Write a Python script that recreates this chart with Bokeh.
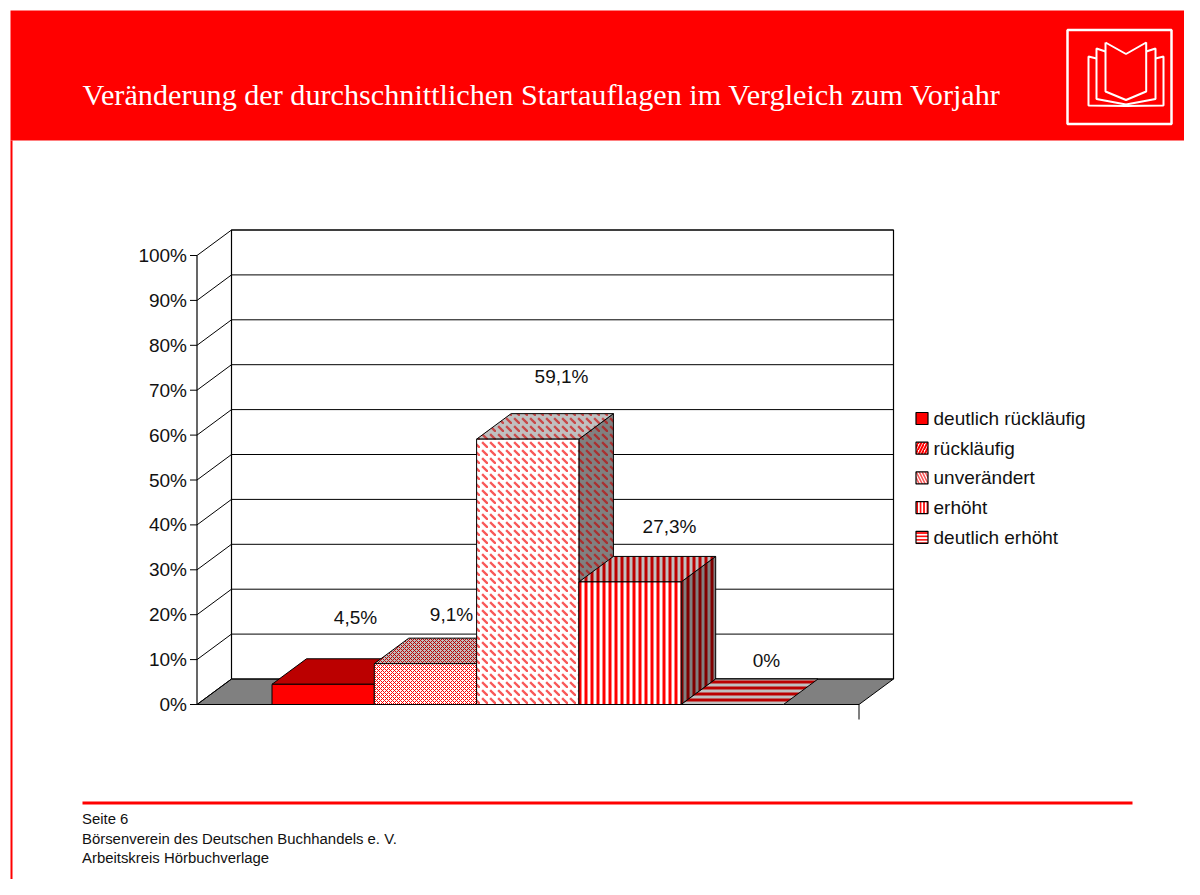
from bokeh.plotting import figure
from bokeh.embed import file_html
from bokeh.resources import INLINE
from bokeh.core.properties import value
from bokeh.models import Range1d

# ---- data ----
title = "Veränderung der durchschnittlichen Startauflagen im Vergleich zum Vorjahr"
series = ["deutlich rückläufig", "rückläufig", "unverändert", "erhöht", "deutlich erhöht"]
values = [4.5, 9.1, 59.1, 27.3, 0.0]
value_labels = ["4,5%", "9,1%", "59,1%", "27,3%", "0%"]
ticks = [0, 10, 20, 30, 40, 50, 60, 70, 80, 90, 100]
footer = ["Seite 6", "Börsenverein des Deutschen Buchhandels e. V.", "Arbeitskreis Hörbuchverlage"]

# ---- layout (pixels of the picture) ----
X0, X1, Y0, PX = 196.5, 858.5, 704.0, 4.49
DX, DY = 34.5, 25.5
BAR0, BARW = 271.5, 102.3
LABEL_X = [355, 451, 561, 669, 766]
LABEL_Y = [616.5, 613.5, 376, 525.5, 659.5]
RED = "#ff0000"
FONT = "Liberation Sans"
W, H = 1184, 879

front_style = [
    dict(fill_color=RED),
    dict(fill_color="white", hatch_pattern="diagonal_cross", hatch_color=RED, hatch_scale=4, hatch_weight=1),
    dict(fill_color="white", hatch_pattern="left_diagonal_dash", hatch_color="#f85858", hatch_scale=8, hatch_weight=2.4),
    dict(fill_color="white", hatch_pattern="vertical_line", hatch_color=RED, hatch_scale=6, hatch_weight=3),
    dict(fill_color="white", hatch_pattern="horizontal_line", hatch_color=RED, hatch_scale=6, hatch_weight=3),
]
top_style = [
    dict(fill_color="#bb0000"),
    dict(fill_color="#c0c0c0", hatch_pattern="diagonal_cross", hatch_color="#bb0000", hatch_scale=4, hatch_weight=1),
    dict(fill_color="#c0c0c0", hatch_pattern="left_diagonal_dash", hatch_color="#c84848", hatch_scale=8, hatch_weight=2.4),
    dict(fill_color="#c0c0c0", hatch_pattern="vertical_line", hatch_color="#bb0000", hatch_scale=6, hatch_weight=3),
    dict(fill_color="#c0c0c0", hatch_pattern="horizontal_line", hatch_color="#bb0000", hatch_scale=6, hatch_weight=3),
]
side_style = [
    dict(fill_color="#800000"),
    dict(fill_color="#808080", hatch_pattern="diagonal_cross", hatch_color="#800000", hatch_scale=4, hatch_weight=1),
    dict(fill_color="#808080", hatch_pattern="left_diagonal_dash", hatch_color="#a83030", hatch_scale=8, hatch_weight=2.4),
    dict(fill_color="#808080", hatch_pattern="vertical_line", hatch_color="#800000", hatch_scale=6, hatch_weight=3),
    dict(fill_color="#808080", hatch_pattern="horizontal_line", hatch_color="#800000", hatch_scale=6, hatch_weight=3),
]
legend_style = [
    dict(fill_color=RED),
    dict(fill_color="white", hatch_pattern="right_diagonal_line", hatch_color=RED, hatch_scale=6, hatch_weight=2),
    dict(fill_color="white", hatch_pattern="left_diagonal_line", hatch_color="#f85858", hatch_scale=6, hatch_weight=1.6),
    dict(fill_color="white", hatch_pattern="vertical_line", hatch_color=RED, hatch_scale=3.4, hatch_weight=1.8),
    dict(fill_color="white", hatch_pattern="horizontal_line", hatch_color=RED, hatch_scale=3.4, hatch_weight=1.8),
]

# y axis of the figure is in percent; x axis in picture pixels
p = figure(width=W, height=H, output_backend="svg", toolbar_location=None,
           x_range=Range1d(0, W), y_range=Range1d((Y0 - H) / PX, Y0 / PX),
           min_border=0, outline_line_color=None, x_axis_type=None, y_axis_type=None)
p.grid.visible = False
p.background_fill_color = "white"
p.border_fill_color = "white"


def v(py):
    """picture pixel row -> percent units"""
    return (Y0 - py) / PX


D = DY / PX  # depth in percent units


def txt(x, py, s, size, color="black", font=FONT, align="left"):
    p.text([x], [v(py)], text=[s], text_font=value(font), text_font_size=f"{size}px",
           text_color=color, text_align=align, text_baseline="middle")


# ---- page frame ----
p.patch([10, W, W, 10], [v(10), v(10), v(140), v(140)], fill_color=RED, line_color=None)
p.line([11, 11], [v(140), v(H)], line_color=RED, line_width=2)
txt(82, 94, title, 30.2, "white", "Liberation Serif")

# logo
p.patch([1067, 1171, 1171, 1067], [v(29.5), v(29.5), v(123.5), v(123.5)],
        fill_color=None, line_color="white", line_width=2.5)
book = [
    ([1105, 1125.5, 1145.7, 1145.7, 1125.5, 1105, 1105], [42, 53.5, 42, 91, 99.5, 91, 42]),
    ([1105, 1096, 1096, 1125.5, 1155, 1155, 1145.7], [51, 48, 98.5, 104, 98.5, 48, 51]),
    ([1096, 1088, 1088, 1125.5, 1163, 1163, 1155], [58, 56, 105, 105.5, 105, 56, 58]),
]
for bx, by in book:
    p.line(bx, [v(q) for q in by], line_color="white", line_width=2)

# ---- 3-D chart walls ----
GRID = "black"
p.patch([X0, X0 + DX, X1 + DX, X1], [0, D, D, 0], fill_color="#808080", line_color="black", line_width=1)
p.line([X0 + DX, X0 + DX, X1 + DX, X1 + DX], [D, 100 + D, 100 + D, D], line_color="black", line_width=1.2)
for t in ticks:
    p.line([X0, X0 + DX, X1 + DX], [t, t + D, t + D], line_color=GRID, line_width=1)
    p.line([X0 - 7, X0], [t, t], line_color="black", line_width=1)
    txt(X0 - 10, Y0 - t * PX, f"{t}%", 19, "#111111", align="right")
p.line([X0, X0], [0, 100], line_color="black", line_width=1.2)
p.line([X0, X1], [0, 0], line_color="black", line_width=1)
p.line([X1, X1], [0, -15 / PX], line_color="black", line_width=1)

# ---- bars ----
for i, val in enumerate(values):
    x0 = BAR0 + i * BARW
    x1 = x0 + BARW
    if val > 0:
        p.patch([x1, x1 + DX, x1 + DX, x1], [0, D, val + D, val], line_color="black", line_width=1, **side_style[i])
    p.patch([x0, x1, x1 + DX, x0 + DX], [val, val, val + D, val + D], line_color="black", line_width=1, **top_style[i])
    if val > 0:
        p.patch([x0, x1, x1, x0], [0, 0, val, val], line_color="black", line_width=1, **front_style[i])

for s, lx, ly in zip(value_labels, LABEL_X, LABEL_Y):
    txt(lx, ly, s, 19, "#111111", align="center")

# ---- legend ----
for i, name in enumerate(series):
    cy = 418 + i * 29.7
    p.patch([915.5, 927.5, 927.5, 915.5], [v(cy - 6), v(cy - 6), v(cy + 6), v(cy + 6)],
            line_color="black", line_width=1.2, **legend_style[i])
    txt(933, cy, name, 19, "#111111")

# ---- footer ----
p.line([82, 1132], [v(802.5), v(802.5)], line_color=RED, line_width=3)
for s, fy in zip(footer, [818.5, 838, 857.5]):
    txt(81.5, fy, s, 14.9, "#111111")

open("out.html", "w").write(file_html(p, INLINE))
